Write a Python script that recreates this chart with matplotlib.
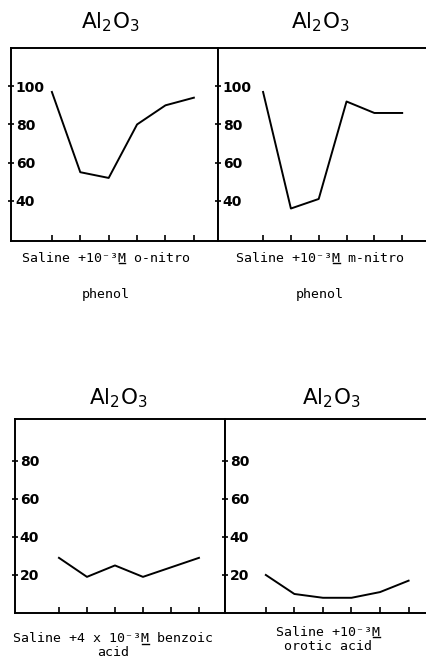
import numpy as np
import matplotlib
matplotlib.use("Agg")
import matplotlib.pyplot as plt
from matplotlib.font_manager import FontProperties
from matplotlib.lines import Line2D

# readings at six successive steps, one series per solution
steps = [1, 2, 3, 4, 5, 6]
o_nitro = [97, 55, 52, 80, 90, 94]
m_nitro = [97, 36, 41, 92, 86, 86]
benzoic = [29, 19, 25, 19, 24, 29]
orotic = [20, 10, 8, 8, 11, 17]

top_yticks = [40, 60, 80, 100]
bottom_yticks = [20, 40, 60, 80]

title = r"Al$_2$O$_3$"
# (text before M, text after M, second line)
labels = [
    ("Saline +10\u207b\u00b3", " o-nitro", "phenol"),
    ("Saline +10\u207b\u00b3", " m-nitro", "phenol"),
    ("Saline +4 x 10\u207b\u00b3", " benzoic", "acid"),
    ("Saline +10\u207b\u00b3", "", "orotic acid"),
]

W, H = 426, 659
fig = plt.figure(figsize=(W / 100, H / 100), dpi=100)

def px_axes(l, t, r, b):
    return fig.add_axes([l / W, 1 - b / H, (r - l) / W, (b - t) / H])

# panel boxes in pixels: left, top, right, bottom
boxes = [(11, 48, 218, 241), (218, 48, 430, 241), (15, 419, 225, 613), (225, 419, 430, 613)]
xlims = [(-0.44, 6.85), (-0.62, 7.0), (-0.57, 6.93), (-0.43, 6.75)]
ylims = [(19, 120), (19, 120), (0, 102), (0, 102)]
series = [o_nitro, m_nitro, benzoic, orotic]
yticks = [top_yticks, top_yticks, bottom_yticks, bottom_yticks]
title_pos = [(110, 22), (320, 22), (118, 398), (331, 398)]
label_pos = [(106, 258, 295), (320, 258, 295), (113, 639, 653), (328, 632, 647)]

mono = FontProperties(family="DejaVu Sans Mono", size=9.5)

texts = []
for i in range(4):
    ax = px_axes(*boxes[i])
    ax.plot(steps, series[i], color="black", lw=1.4)
    ax.set_xlim(*xlims[i])
    ax.set_ylim(*ylims[i])
    ax.set_xticks(steps)
    ax.set_xticklabels([])
    ax.set_yticks(yticks[i])
    ax.set_yticklabels([str(v) for v in yticks[i]], fontweight="bold",
                       fontsize=10, ha="left")
    ax.tick_params(axis="x", direction="in", length=4, width=1.2)
    ax.tick_params(axis="y", direction="inout", length=4, width=1.2, pad=-5.5)
    for s in ax.spines.values():
        s.set_linewidth(1.4)
    if i in (1, 3):
        ax.spines["right"].set_visible(False)

    tx, ty = title_pos[i]
    fig.text(tx / W, 1 - ty / H, title, ha="center", va="center", fontsize=15.5)

    lx, ly1, ly2 = label_pos[i]
    pre, post, second = labels[i]
    t1 = fig.text(lx / W, 1 - ly1 / H, pre + "M" + post, ha="center", va="center",
                  fontproperties=mono)
    fig.text(lx / W, 1 - ly2 / H, second, ha="center", va="center",
             fontproperties=mono)
    texts.append((t1, pre, pre + "M" + post))

# underline the molar "M" in each label
fig.canvas.draw()
renderer = fig.canvas.get_renderer()
for t1, pre, full in texts:
    bb = t1.get_window_extent(renderer)
    cw = bb.width / len(full)
    x0 = bb.x0 + len(pre) * cw + 0.5
    y0 = bb.y0 + 1.5
    fig.add_artist(Line2D([x0 / W, (x0 + cw - 1) / W], [y0 / H, y0 / H],
                          color="black", lw=1.0, transform=fig.transFigure))

fig.savefig("out.png", dpi=100)
